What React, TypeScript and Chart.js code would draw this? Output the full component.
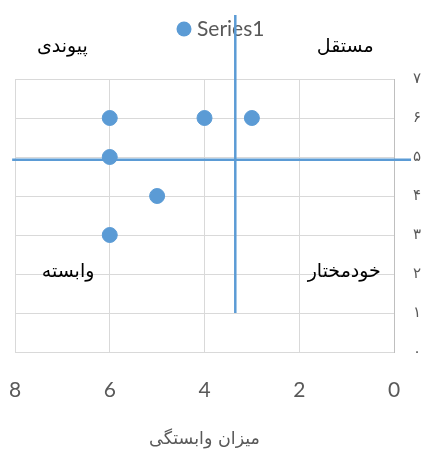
import React, { useEffect, useRef } from "react";
import { Chart, registerables } from "chart.js";
Chart.register(...registerables);

const seriesName = "Series1";
const xValues = [6, 4, 3, 6, 5, 6];
const yValues = [6, 6, 6, 5, 4, 3];
const yTickLabels = ["۰", "۱", "۲", "۳", "۴", "۵", "۶", "۷"];
const xTitle = "میزان وابستگی";
const quadrantNames = ["پیوندی", "مستقل", "وابسته", "خودمختار"];
const quadrantX = [7.0, 1.03, 6.88, 1.05];
const quadrantY = [7.82, 7.82, 2.05, 2.05];
const vLineX = [3.35, 3.35];
const vLineY = [1, 8.64];
const hLineX = [8.06, -0.36];
const hLineY = [4.93, 4.93];

const BLUE = "#5B9BD5";
const GRAY = "#595959";
const LATIN = "Lato, 'Open Sans', sans-serif";
const ARABIC = "'DejaVu Sans', sans-serif";

const overlay = {
  id: "overlay",
  beforeDatasetsDraw(chart: any) {
    const ctx = chart.ctx;
    ctx.save();
    // legend
    ctx.fillStyle = BLUE;
    ctx.beginPath();
    ctx.arc(184, 29, 7.5, 0, Math.PI * 2);
    ctx.fill();
    ctx.fillStyle = GRAY;
    ctx.font = `21px ${LATIN}`;
    ctx.textAlign = "left";
    ctx.textBaseline = "alphabetic";
    ctx.fillText(seriesName, 197, 36);
    // quadrant labels
    const xs = chart.scales.x;
    const ys = chart.scales.y;
    ctx.fillStyle = "#000";
    ctx.font = `19px ${ARABIC}`;
    ctx.textAlign = "center";
    ctx.textBaseline = "middle";
    ctx.direction = "rtl";
    quadrantNames.forEach((n, i) => {
      ctx.fillText(n, xs.getPixelForValue(quadrantX[i]), ys.getPixelForValue(quadrantY[i]));
    });
    ctx.restore();
  },
};

export default function App() {
  const ref = useRef<HTMLCanvasElement>(null);
  useEffect(() => {
    const chart = new Chart(ref.current as HTMLCanvasElement, {
      type: "scatter",
      data: {
        datasets: [
          {
            label: seriesName,
            data: xValues.map((x, i) => ({ x, y: yValues[i] })),
            backgroundColor: BLUE,
            borderColor: BLUE,
            pointRadius: 7.5,
            pointHoverRadius: 7.5,
            order: 0,
          },
          {
            label: "v",
            type: "line",
            data: vLineX.map((x, i) => ({ x, y: vLineY[i] })),
            borderColor: BLUE,
            borderWidth: 2.5,
            pointRadius: 0,
            showLine: true,
            clip: false,
            order: 1,
          } as any,
          {
            label: "h",
            type: "line",
            data: hLineX.map((x, i) => ({ x, y: hLineY[i] })),
            borderColor: BLUE,
            borderWidth: 2.5,
            pointRadius: 0,
            showLine: true,
            clip: false,
            order: 1,
          } as any,
        ],
      },
      options: {
        responsive: false,
        animation: false,
        layout: { padding: { top: 79, left: 15, right: 0, bottom: 0 } },
        plugins: { legend: { display: false }, tooltip: { enabled: false } },
        scales: {
          x: {
            type: "linear",
            reverse: true,
            min: 0,
            max: 8,
            ticks: { stepSize: 2, color: GRAY, font: { family: LATIN, size: 21 }, padding: 26 },
            grid: { color: "#d9d9d9", drawTicks: false },
            border: { color: "#d9d9d9" },
            title: {
              display: true,
              text: xTitle,
              color: GRAY,
              font: { family: ARABIC, size: 17.5 },
              padding: { top: 0, bottom: 5 },
            },
            afterFit(s: any) {
              s.height = 103;
              s.paddingLeft = 0;
              s.paddingRight = 0;
            },
          },
          y: {
            type: "linear",
            position: "right",
            min: 0,
            max: 7,
            ticks: {
              stepSize: 1,
              color: GRAY,
              font: { family: ARABIC, size: 15 },
              padding: 19,
              callback: (v: any) => yTickLabels[v],
            },
            grid: { color: "#d9d9d9", drawTicks: false },
            border: { color: "#bfbfbf" },
            afterFit(s: any) {
              s.width = 31;
              s.paddingTop = 0;
              s.paddingBottom = 0;
            },
          },
        },
      } as any,
      plugins: [overlay],
    });
    return () => chart.destroy();
  }, []);
  return (
    <div style={{ position: "absolute", left: 0, top: 0, width: 425, height: 455, background: "#fff" }}>
      <canvas ref={ref} width={425} height={455} style={{ width: 425, height: 455 }} />
    </div>
  );
}
